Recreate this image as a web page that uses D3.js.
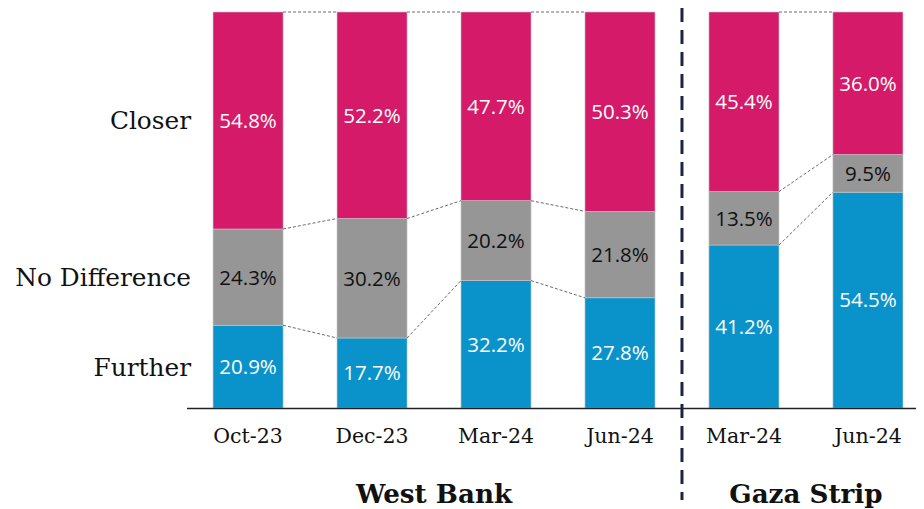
<!DOCTYPE html>
<html>
<head>
<meta charset="utf-8">
<script src="https://d3js.org/d3.v7.min.js"></script>
<style>
    body { margin: 0; background: #fff; }
    .serif { font-family: "DejaVu Serif", serif; }
    .val { font-family: "Open Sans", "Noto Sans", sans-serif; }
</style>
</head>
<body>
<script>
//chart data
var periods = ["Oct-23", "Dec-23", "Mar-24", "Jun-24", "Mar-24", "Jun-24"];
var regions = ["West Bank", "West Bank", "West Bank", "West Bank", "Gaza Strip", "Gaza Strip"];
var further = [20.9, 17.7, 32.2, 27.8, 41.2, 54.5];
var noDifference = [24.3, 30.2, 20.2, 21.8, 13.5, 9.5];
var closer = [54.8, 52.2, 47.7, 50.3, 45.4, 36.0];
var seriesNames = ["Further", "No Difference", "Closer"];
var seriesColors = ["#0a93cb", "#969696", "#d41a69"];
var labelColors = ["#fff", "#111", "#fff"];

window.onload = setChart();

function setChart(){

    var width = 924,
        height = 509;

    var svg = d3.select("body")
        .append("svg")
        .attr("width", width)
        .attr("height", height);

    //rows for the stack, keyed by index
    var rows = periods.map(function(p, i){
        return {
            id: i,
            "Further": further[i],
            "No Difference": noDifference[i],
            "Closer": closer[i]
        };
    });

    var stack = d3.stack()
        .keys(seriesNames)
        .offset(d3.stackOffsetExpand);
    var layers = stack(rows);

    var x = d3.scaleBand()
        .domain(d3.range(periods.length))
        .range([186, 930])
        .paddingInner(0.435)
        .paddingOuter(0.218);

    var y = d3.scaleLinear()
        .domain([0, 1])
        .range([408, 12]);

    //bars
    var layer = svg.selectAll(".layer")
        .data(layers)
        .enter()
        .append("g")
        .attr("class", "layer")
        .attr("fill", function(d, i){ return seriesColors[i]; });

    layer.selectAll("rect")
        .data(function(d){ return d; })
        .enter()
        .append("rect")
        .attr("x", function(d, i){ return x(i); })
        .attr("y", function(d){ return y(d[1]); })
        .attr("width", x.bandwidth())
        .attr("height", function(d){ return y(d[0]) - y(d[1]); })
        .attr("stroke", "#c8c8c8")
        .attr("stroke-width", 0.6);

    //value labels
    layers.forEach(function(L, s){
        svg.selectAll(".val-" + s)
            .data(L)
            .enter()
            .append("text")
            .attr("class", "val")
            .attr("x", function(d, i){ return x(i) + x.bandwidth() / 2; })
            .attr("y", function(d){ return (y(d[0]) + y(d[1])) / 2; })
            .attr("dy", "0.36em")
            .attr("text-anchor", "middle")
            .attr("font-size", 20.5)
            .attr("fill", labelColors[s])
            .text(function(d, i){ return [further, noDifference, closer][s][i].toFixed(1) + "%"; });
    });

    //dashed connectors between bars of the same region
    var bounds = [layers[0], layers[1], layers[2]];
    for (var i = 0; i < periods.length - 1; i++){
        if (regions[i] !== regions[i + 1]) continue;
        bounds.forEach(function(L){
            svg.append("line")
                .attr("x1", x(i) + x.bandwidth())
                .attr("x2", x(i + 1))
                .attr("y1", y(L[i][1]))
                .attr("y2", y(L[i + 1][1]))
                .attr("stroke", "#444")
                .attr("stroke-width", 0.8)
                .attr("stroke-dasharray", "3,2");
        });
    }

    //baseline
    svg.append("line")
        .attr("x1", 187)
        .attr("x2", 916)
        .attr("y1", y(0) + 0.5)
        .attr("y2", y(0) + 0.5)
        .attr("stroke", "#222")
        .attr("stroke-width", 1.5);

    //period tick labels
    svg.selectAll(".tick-label")
        .data(periods)
        .enter()
        .append("text")
        .attr("class", "serif")
        .attr("x", function(d, i){ return x(i) + x.bandwidth() / 2; })
        .attr("y", 443)
        .attr("text-anchor", "middle")
        .attr("font-size", 20.5)
        .attr("fill", "#111")
        .text(function(d){ return d; });

    //series labels at the first bar's segments
    svg.selectAll(".series-label")
        .data(layers)
        .enter()
        .append("text")
        .attr("class", "serif")
        .attr("x", 191)
        .attr("y", function(d){ return (y(d[0][0]) + y(d[0][1])) / 2; })
        .attr("dy", "0.36em")
        .attr("text-anchor", "end")
        .attr("font-size", 24.8)
        .attr("fill", "#111")
        .text(function(d){ return d.key; });

    //region titles
    var regionNames = Array.from(new Set(regions));
    svg.selectAll(".region")
        .data(regionNames)
        .enter()
        .append("text")
        .attr("class", "serif")
        .attr("x", function(r){
            var idx = d3.range(regions.length).filter(function(i){ return regions[i] === r; });
            return (x(idx[0]) + x(idx[idx.length - 1]) + x.bandwidth()) / 2;
        })
        .attr("y", 503)
        .attr("text-anchor", "middle")
        .attr("font-size", 26.2)
        .attr("font-weight", "bold")
        .attr("fill", "#111")
        .text(function(d){ return d; });

    //divider between regions
    var divX = (x(3) + x.bandwidth() + x(4)) / 2;
    svg.append("line")
        .attr("x1", divX)
        .attr("x2", divX)
        .attr("y1", 8)
        .attr("y2", 500)
        .attr("stroke", "#1c2444")
        .attr("stroke-width", 3)
        .attr("stroke-dasharray", "14,8");
};
</script>
</body>
</html>
